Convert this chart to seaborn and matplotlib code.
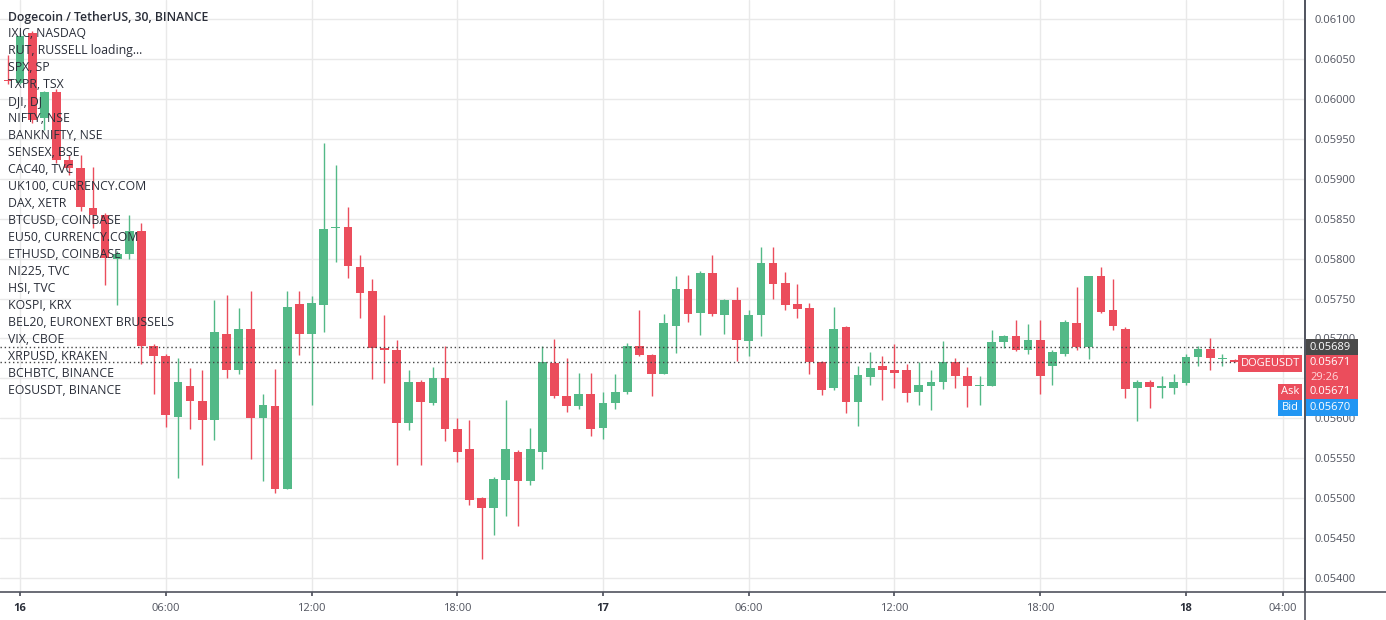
import matplotlib
matplotlib.use("Agg")
import matplotlib.pyplot as plt
import matplotlib.dates as mdates
from matplotlib.lines import Line2D
from matplotlib.patches import Rectangle
import numpy as np
import pandas as pd
import seaborn as sns

# 30 minute candles, DOGE/USDT, starting 15th 23:30
opens = [0.06024, 0.06020, 0.06083, 0.05976, 0.06008, 0.05924, 0.05913, 0.05863, 0.05855, 0.05800,
         0.05806, 0.05834, 0.05691, 0.05678, 0.05602, 0.05640, 0.05622, 0.05598, 0.05706, 0.05661,
         0.05712, 0.05600, 0.05615, 0.05511, 0.05743, 0.05705, 0.05742, 0.05838, 0.05839, 0.05789,
         0.05759, 0.05688, 0.05685, 0.05594, 0.05645, 0.05619, 0.05650, 0.05587, 0.05562, 0.05500,
         0.05488, 0.05523, 0.05558, 0.05521, 0.05558, 0.05669, 0.05628, 0.05616, 0.05630, 0.05588,
         0.05619, 0.05633, 0.05690, 0.05679, 0.05655, 0.05716, 0.05762, 0.05732, 0.05782, 0.05729,
         0.05748, 0.05697, 0.05729, 0.05794, 0.05769, 0.05743, 0.05738, 0.05671, 0.05638, 0.05714,
         0.05621, 0.05652, 0.05665, 0.05661, 0.05661, 0.05633, 0.05641, 0.05646, 0.05671, 0.05653,
         0.05640, 0.05640, 0.05695, 0.05703, 0.05685, 0.05698, 0.05665, 0.05680, 0.05719, 0.05689,
         0.05778, 0.05735, 0.05712, 0.05638, 0.05646, 0.05638, 0.05638, 0.05644, 0.05677, 0.05687,
         0.05674, 0.05673]
highs = [0.06055, 0.06082, 0.06085, 0.06010, 0.06012, 0.05930, 0.05930, 0.05915, 0.05857, 0.05809,
         0.05854, 0.05844, 0.05693, 0.05680, 0.05675, 0.05663, 0.05661, 0.05748, 0.05754, 0.05738,
         0.05760, 0.05630, 0.05662, 0.05760, 0.05760, 0.05753, 0.05945, 0.05917, 0.05864, 0.05804,
         0.05774, 0.05729, 0.05698, 0.05661, 0.05648, 0.05664, 0.05690, 0.05601, 0.05598, 0.05502,
         0.05526, 0.05623, 0.05560, 0.05588, 0.05691, 0.05699, 0.05676, 0.05657, 0.05657, 0.05633,
         0.05655, 0.05694, 0.05736, 0.05680, 0.05730, 0.05778, 0.05780, 0.05785, 0.05804, 0.05750,
         0.05764, 0.05735, 0.05814, 0.05814, 0.05783, 0.05768, 0.05745, 0.05672, 0.05740, 0.05716,
         0.05666, 0.05683, 0.05678, 0.05693, 0.05668, 0.05671, 0.05660, 0.05697, 0.05675, 0.05664,
         0.05653, 0.05710, 0.05704, 0.05723, 0.05718, 0.05723, 0.05685, 0.05723, 0.05764, 0.05778,
         0.05789, 0.05774, 0.05714, 0.05648, 0.05648, 0.05653, 0.05655, 0.05680, 0.05690, 0.05700,
         0.05680, 0.05674]
lows = [0.06018, 0.06018, 0.05970, 0.05961, 0.05920, 0.05905, 0.05860, 0.05838, 0.05767, 0.05742,
        0.05800, 0.05668, 0.05631, 0.05589, 0.05525, 0.05587, 0.05542, 0.05573, 0.05651, 0.05655,
        0.05549, 0.05521, 0.05507, 0.05511, 0.05679, 0.05617, 0.05708, 0.05796, 0.05776, 0.05725,
        0.05649, 0.05644, 0.05541, 0.05585, 0.05541, 0.05617, 0.05571, 0.05545, 0.05491, 0.05424,
        0.05454, 0.05478, 0.05465, 0.05517, 0.05537, 0.05625, 0.05608, 0.05612, 0.05578, 0.05574,
        0.05612, 0.05630, 0.05678, 0.05628, 0.05655, 0.05682, 0.05720, 0.05704, 0.05728, 0.05705,
        0.05672, 0.05678, 0.05703, 0.05750, 0.05736, 0.05725, 0.05655, 0.05629, 0.05636, 0.05607,
        0.05590, 0.05642, 0.05623, 0.05638, 0.05620, 0.05617, 0.05610, 0.05637, 0.05638, 0.05614,
        0.05617, 0.05640, 0.05688, 0.05684, 0.05680, 0.05630, 0.05642, 0.05678, 0.05685, 0.05674,
        0.05732, 0.05710, 0.05625, 0.05597, 0.05613, 0.05625, 0.05630, 0.05642, 0.05665, 0.05660,
        0.05666, 0.05670]
closes = [0.06022, 0.06079, 0.05973, 0.06008, 0.05923, 0.05914, 0.05864, 0.05855, 0.05801, 0.05806,
          0.05834, 0.05691, 0.05678, 0.05604, 0.05646, 0.05622, 0.05598, 0.05708, 0.05661, 0.05712,
          0.05600, 0.05617, 0.05511, 0.05740, 0.05705, 0.05744, 0.05837, 0.05839, 0.05791, 0.05757,
          0.05688, 0.05686, 0.05594, 0.05645, 0.05621, 0.05650, 0.05587, 0.05558, 0.05498, 0.05488,
          0.05524, 0.05562, 0.05521, 0.05561, 0.05671, 0.05628, 0.05616, 0.05630, 0.05586, 0.05619,
          0.05633, 0.05690, 0.05679, 0.05655, 0.05719, 0.05762, 0.05731, 0.05782, 0.05730, 0.05748,
          0.05698, 0.05729, 0.05794, 0.05768, 0.05742, 0.05737, 0.05671, 0.05636, 0.05712, 0.05621,
          0.05654, 0.05663, 0.05661, 0.05657, 0.05632, 0.05642, 0.05645, 0.05671, 0.05653, 0.05640,
          0.05642, 0.05695, 0.05703, 0.05685, 0.05698, 0.05653, 0.05683, 0.05721, 0.05689, 0.05778,
          0.05733, 0.05715, 0.05637, 0.05646, 0.05639, 0.05640, 0.05645, 0.05677, 0.05687, 0.05675,
          0.05674, 0.05671]

watchlist = ["IXIC, NASDAQ", "RUT, RUSSELL loading...", "SPX, SP", "TXPR, TSX", "DJI, DJ",
             "NIFTY, NSE", "BANKNIFTY, NSE", "SENSEX, BSE", "CAC40, TVC", "UK100, CURRENCY.COM",
             "DAX, XETR", "BTCUSD, COINBASE", "EU50, CURRENCY.COM", "ETHUSD, COINBASE",
             "NI225, TVC", "HSI, TVC", "KOSPI, KRX", "BEL20, EURONEXT BRUSSELS", "VIX, CBOE",
             "XRPUSD, KRAKEN", "BCHBTC, BINANCE", "EOSUSDT, BINANCE"]

tick_times = ["2019-11-16 00:00", "2019-11-16 06:00", "2019-11-16 12:00", "2019-11-16 18:00",
              "2019-11-17 00:00", "2019-11-17 06:00", "2019-11-17 12:00", "2019-11-17 18:00",
              "2019-11-18 00:00", "2019-11-18 04:00"]
tick_labels = ["16", "06:00", "12:00", "18:00", "17", "06:00", "12:00", "18:00", "18", "04:00"]

prev_close = 0.05689
ask, bid = 0.05671, 0.05670

GREEN = "#53b987"
RED = "#eb4d5c"
BLUE = "#2196f3"

sns.set_theme(style="white")
plt.rcParams['font.family'] = ['Open Sans', 'DejaVu Sans']

df = pd.DataFrame({"open": opens, "high": highs, "low": lows, "close": closes})
df["time"] = pd.date_range("2019-11-15 23:30", periods=len(df), freq="30min")
df["x"] = mdates.date2num(df["time"])
df["up"] = df["close"] >= df["open"]
df["color"] = np.where(df["up"], GREEN, RED)
df["bottom"] = df[["open", "close"]].min(axis=1)
df["height"] = (df["close"] - df["open"]).abs().clip(lower=0.000012)

W, H = 1386, 620
fig = plt.figure(figsize=(W / 100, H / 100), dpi=100)
ax = fig.add_axes([0, 28 / H, 1305 / W, 1 - 28 / H])

step = 1 / 48
x0 = mdates.date2num(pd.Timestamp("2019-11-16 00:00"))
ax.set_xlim(x0 - 1.65 * step, x0 + 105.8 * step)
ax.set_ylim(0.053825, 0.061238)

ax.vlines(df["x"], df["low"], df["high"], colors=df["color"], lw=1, zorder=2)
ax.bar(df["x"], df["height"], bottom=df["bottom"], width=0.72 * step,
       color=df["color"], linewidth=0, zorder=3)

# dotted price lines
ax.axhline(prev_close, color="#444444", lw=1, ls=(0, (1, 2)), zorder=4)
ax.axhline(closes[-1], color="#444444", lw=1, ls=(0, (1, 2)), zorder=4)

ax.set_yticks(np.arange(0.054, 0.06101, 0.0005))
ax.yaxis.set_major_formatter(matplotlib.ticker.FormatStrFormatter("%.5f"))
ax.yaxis.tick_right()
ax.tick_params(axis="y", length=0, pad=7, labelsize=8, labelcolor="#50535e")

ax.set_xticks(mdates.date2num(pd.to_datetime(tick_times)))
ax.set_xticklabels(tick_labels)
ax.tick_params(axis="x", length=3, pad=5, labelsize=8, labelcolor="#50535e", color="#50535e",
               direction="out", bottom=True)
for lbl in ax.get_xticklabels():
    if ":" not in lbl.get_text():
        lbl.set_fontweight("bold")
        lbl.set_color("#2a2e39")

ax.grid(True, color="#e9e9e9", lw=1)
ax.set_axisbelow(True)
for side in ["left", "top"]:
    ax.spines[side].set_visible(False)
for side in ["right", "bottom"]:
    ax.spines[side].set_color("#50535e")
    ax.spines[side].set_linewidth(1.2)

fig.add_artist(Line2D([1305 / W, 1305 / W], [0, 1], color="#50535e", lw=1.2,
                      transform=fig.transFigure))
fig.add_artist(Line2D([1305 / W, 1], [28 / H, 28 / H], color="#50535e", lw=1.2,
                      transform=fig.transFigure))

# legend / watchlist text
fig.text(8 / W, 1 - 17 / H, "Dogecoin / TetherUS, 30, BINANCE", fontsize=8.8, fontweight="semibold",
         color="#2a2e39", va="center", ha="left", zorder=20)
for k, name in enumerate(watchlist):
    fig.text(8 / W, 1 - (33.5 + 17 * k) / H, name, fontsize=8.8, color="#2a2e39",
             va="center", ha="left", zorder=20)


def px_label(x0p, y0p, x1p, y1p, color, lines, ha="center", pad=0):
    fig.add_artist(Rectangle((x0p / W, 1 - y1p / H), (x1p - x0p) / W, (y1p - y0p) / H,
                             transform=fig.transFigure, color=color, zorder=30, lw=0))
    n = len(lines)
    for j, (txt, tcol) in enumerate(lines):
        yc = y0p + (y1p - y0p) * (j + 0.5) / n
        xc = (x0p + x1p) / 2 if ha == "center" else x0p + pad
        fig.text(xc / W, 1 - yc / H, txt, color=tcol, fontsize=8, ha=ha, va="center", zorder=31)


px_label(1306, 339, 1358, 355, "#4a4a4a", [(f"{prev_close:.5f}", "white")], ha="left", pad=4)
px_label(1306, 355, 1358, 399, RED, [(f"{closes[-1]:.5f}", "white"), ("29:26", "#ffd6da"),
                                     (f"{ask:.5f}", "white")], ha="left", pad=4)
px_label(1306, 399, 1358, 416, BLUE, [(f"{bid:.5f}", "white")], ha="left", pad=4)
px_label(1238, 355, 1302, 372, RED, [("DOGEUSDT", "white")])
px_label(1278, 384, 1302, 400, RED, [("Ask", "white")])
px_label(1278, 400, 1302, 416, BLUE, [("Bid", "white")])

fig.savefig("out.png", dpi=100, facecolor="white")
